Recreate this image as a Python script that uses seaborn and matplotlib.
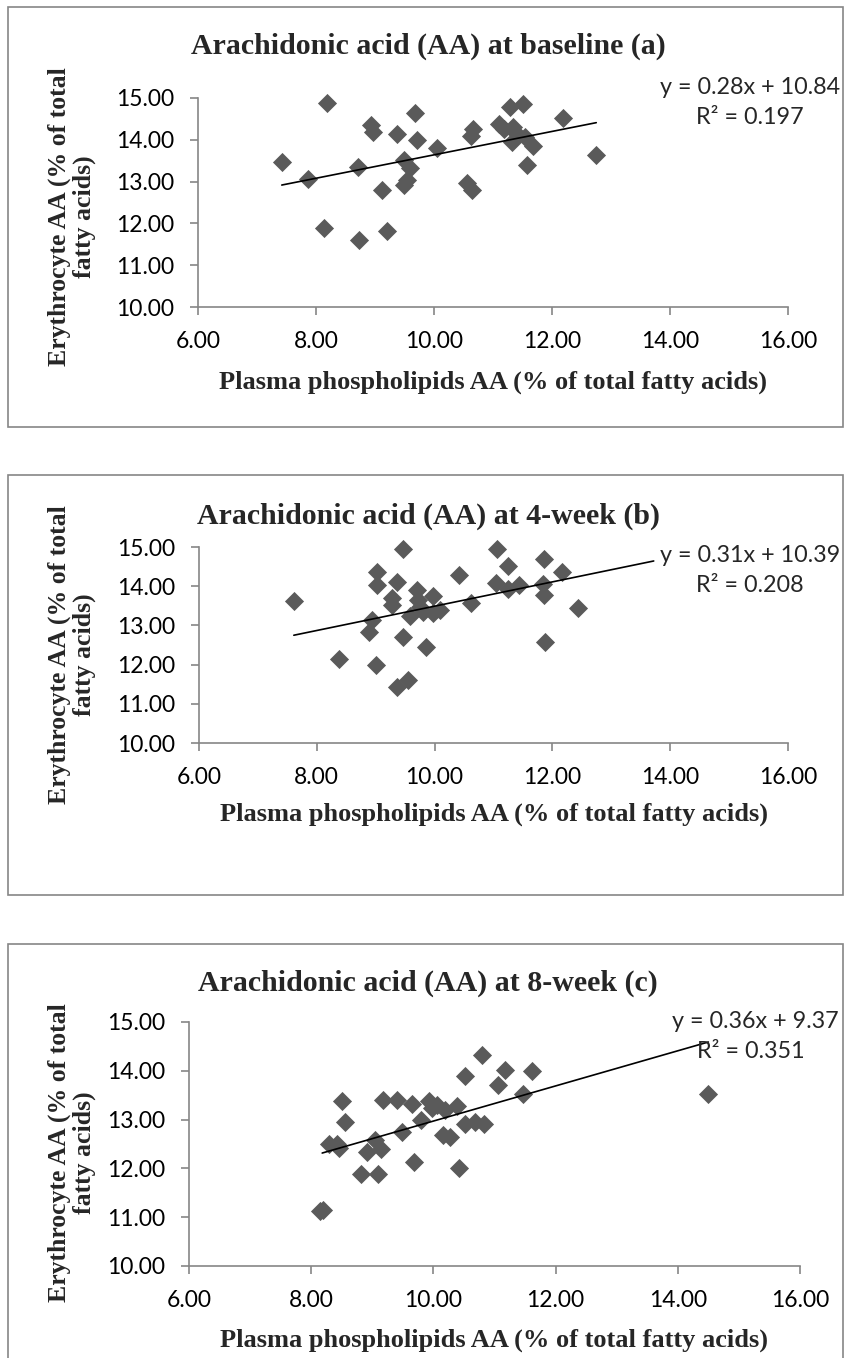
import seaborn as sns
import matplotlib.pyplot as plt
from matplotlib.patches import Rectangle

# values
a_x = [7.42, 7.86, 8.18, 8.13, 8.72, 8.73, 8.94, 8.96, 9.12, 9.20, 9.38, 9.50, 9.59, 9.54, 9.50, 9.68, 9.72,
       10.05, 10.56, 10.64, 10.66, 10.63, 11.10, 11.28, 11.51, 11.19, 11.32, 11.34, 11.54, 11.68, 11.57, 12.18,
       12.75, 11.35]
a_y = [13.47, 13.07, 14.88, 11.88, 13.34, 11.60, 14.35, 14.19, 12.80, 11.83, 14.14, 13.52, 13.32, 13.04, 12.91,
       14.65, 14.00, 13.80, 12.96, 12.79, 14.25, 14.09, 14.37, 14.78, 14.85, 14.27, 13.95, 14.31, 14.07, 13.84,
       13.40, 14.52, 13.64, 14.20]

b_x = [7.61, 8.38, 8.88, 8.93, 9.01, 9.03, 9.03, 9.27, 9.27, 9.37, 9.36, 9.47, 9.46, 9.55, 9.58, 9.70, 9.72,
       9.80, 9.86, 9.97, 9.98, 10.09, 10.42, 10.62, 11.06, 11.05, 11.24, 11.24, 11.44, 11.85, 11.84, 11.85,
       11.88, 12.17, 12.43, 9.76]
b_y = [13.61, 12.15, 12.84, 13.13, 11.98, 14.35, 14.02, 13.71, 13.52, 14.10, 11.44, 14.95, 12.71, 11.60, 13.24,
       13.90, 13.65, 13.33, 12.46, 13.76, 13.31, 13.39, 14.29, 13.57, 14.95, 14.08, 14.51, 13.92, 14.03, 14.70,
       14.06, 13.77, 12.57, 14.35, 13.44, 13.48]

c_x = [8.15, 8.20, 8.29, 8.42, 8.45, 8.50, 8.55, 8.82, 8.92, 9.05, 9.10, 9.14, 9.17, 9.40, 9.48, 9.65, 9.68,
       9.79, 9.92, 9.97, 10.06, 10.16, 10.19, 10.27, 10.39, 10.42, 10.52, 10.52, 10.68, 10.79, 10.83, 11.05,
       11.17, 11.46, 11.61, 14.50]
c_y = [11.12, 11.14, 12.51, 12.51, 12.41, 13.38, 12.95, 11.88, 12.34, 12.58, 11.88, 12.39, 13.40, 13.40, 12.75,
       13.31, 12.14, 12.99, 13.38, 13.24, 13.29, 12.68, 13.19, 12.65, 13.27, 12.00, 12.92, 13.89, 12.95, 14.32,
       12.92, 13.70, 14.02, 13.53, 13.99, 13.53]

titles = ["Arachidonic acid (AA) at baseline (a)",
          "Arachidonic acid (AA) at 4-week (b)",
          "Arachidonic acid (AA) at 8-week (c)"]
slopes = [0.28, 0.31, 0.36]
intercepts = [10.84, 10.39, 9.37]
r2 = [0.197, 0.208, 0.351]
trend_x = [[7.42, 12.75], [7.61, 13.72], [8.18, 14.50]]
x_ticks = [6, 8, 10, 12, 14, 16]
y_ticks = [10, 11, 12, 13, 14, 15]
xlabel = "Plasma phospholipids AA (% of total fatty acids)"
ylabel = "Erythrocyte AA (% of total\nfatty acids)"

xs = [a_x, b_x, c_x]
ys = [a_y, b_y, c_y]

sns.set_style("white")
plt.rcParams["font.family"] = ["Lato", "DejaVu Sans"]

W, H = 851, 1358
fig = plt.figure(figsize=(W / 100, H / 100), dpi=100)

# pixel layout of each chart block
layout = [
    dict(box=(7, 427), ax=(198, 788, 98, 307), title_y=46, xlab_y=382, ylab_y=217, eq=(750, 87), r2=(750, 117)),
    dict(box=(475, 895), ax=(199, 788, 547, 743), title_y=516, xlab_y=814, ylab_y=655, eq=(750, 555), r2=(750, 585)),
    dict(box=(944, 1420), ax=(189, 800, 1022, 1266), title_y=983, xlab_y=1340, ylab_y=1153, eq=(755, 1022), r2=(751, 1052)),
]
grey = "#868686"
serif = dict(family="Liberation Serif", weight="bold")

for i, p in enumerate(layout):
    top, bottom = p["box"]
    fig.add_artist(Rectangle((8 / W, 1 - bottom / H), (843 - 8) / W, (bottom - top) / H,
                             transform=fig.transFigure, fill=False, edgecolor=grey, lw=1.2))
    l, r, t, b = p["ax"]
    ax = fig.add_axes([l / W, 1 - b / H, (r - l) / W, (b - t) / H])
    sns.scatterplot(x=xs[i], y=ys[i], marker="D", s=95, color="#5a5a5a", linewidth=0, ax=ax, clip_on=False, zorder=3)
    tx = trend_x[i]
    ax.plot(tx, [slopes[i] * v + intercepts[i] for v in tx], color="black", lw=1.2, zorder=4, clip_on=False)
    ax.set_xlim(6, 16)
    ax.set_ylim(10, 15)
    ax.set_xticks(x_ticks)
    ax.set_yticks(y_ticks)
    ax.set_xticklabels([f"{v:.2f}" for v in x_ticks])
    ax.set_yticklabels([f"{v:.2f}" for v in y_ticks])
    for s in ["top", "right"]:
        ax.spines[s].set_visible(False)
    for s in ["left", "bottom"]:
        ax.spines[s].set_color(grey)
        ax.spines[s].set_linewidth(1.2)
    ax.tick_params(direction="out", length=6, width=1.2, color=grey, pad=11, labelsize=16.5, labelcolor="black",
                   left=True, bottom=True)

    fig.text(428 / W, 1 - p["title_y"] / H, titles[i], ha="center", va="center", size=21.5, **serif)
    fig.text((l + r) / 2 / W, 1 - p["xlab_y"] / H, xlabel, ha="center", va="center", size=19, **serif)
    fig.text(72 / W, 1 - p["ylab_y"] / H, ylabel, ha="center", va="center", rotation=90,
             multialignment="center", linespacing=1.1, size=18.5, **serif)
    fig.text(p["eq"][0] / W, 1 - p["eq"][1] / H, f"y = {slopes[i]:.2f}x + {intercepts[i]:.2f}",
             ha="center", va="center", size=16.8)
    fig.text(p["r2"][0] / W, 1 - p["r2"][1] / H, f"R² = {r2[i]:.3f}", ha="center", va="center", size=16.8)

fig.savefig("out.png", dpi=100)
